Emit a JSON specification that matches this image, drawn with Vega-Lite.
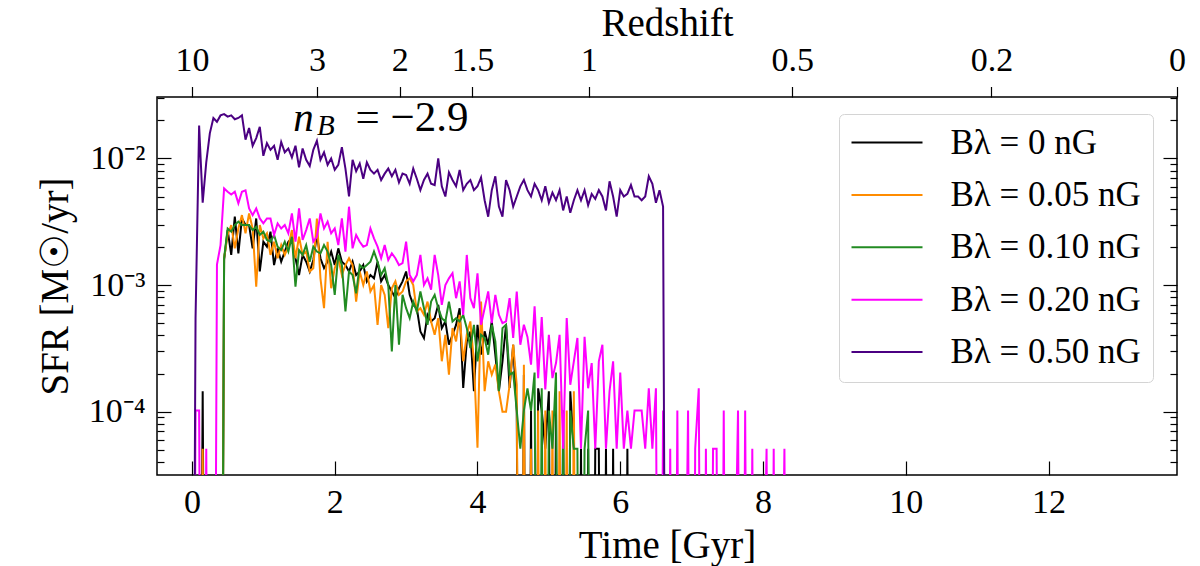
{
"$schema": "https://vega.github.io/schema/vega-lite/v6.json",
"width": 1020, "height": 378,
"autosize": {"type": "none"},
"padding": {"left": 157, "top": 97, "right": 23, "bottom": 91},
"background": "white",
"datasets": {"sfr": [
{"t":0,"d":1e-9,"e":1e-9},
{"t":0.05,"d":1.02e-4,"e":5.5e-4},
{"t":0.1,"a":1e-9,"b":1e-9,"d":1.02e-4,"e":1.82e-2},
{"t":0.15,"a":1.45e-4,"b":5.1e-5,"d":1e-9,"e":4.47e-3},
{"t":0.2,"a":1e-9,"b":1e-9,"d":5.1e-5,"e":9.33e-3},
{"t":0.25,"d":1e-9,"e":1.58e-2},
{"t":0.3,"d":1e-9,"e":2.09e-2},
{"t":0.35,"d":1.45e-3,"e":1.95e-2},
{"t":0.4,"a":1e-9,"b":1e-9,"c":1e-9,"d":2.07e-3,"e":2.19e-2},
{"t":0.45,"a":1.58e-3,"b":1.63e-3,"c":1.63e-3,"d":5.8e-3,"e":2.24e-2},
{"t":0.5,"a":2.72e-3,"b":2.49e-3,"c":2.8e-3,"d":5.46e-3,"e":2.14e-2},
{"t":0.55,"a":1.73e-3,"b":2.98e-3,"c":2.64e-3,"d":5.2e-3,"e":2.19e-2},
{"t":0.6,"a":3.47e-3,"b":1.95e-3,"c":2.98e-3,"d":5.46e-3,"e":2.04e-2},
{"t":0.65,"a":1.78e-3,"b":2.8e-3,"c":3.17e-3,"d":4.42e-3,"e":2.09e-2},
{"t":0.7,"a":3.36e-3,"b":3.57e-3,"c":2.98e-3,"d":5.46e-3,"e":2.19e-2},
{"t":0.75,"a":2.98e-3,"b":2.56e-3,"c":2.98e-3,"d":5.6e-3,"e":1.41e-2},
{"t":0.8,"a":2.98e-3,"b":3.68e-3,"c":2.98e-3,"d":4.03e-3,"e":1.74e-2},
{"t":0.85,"a":1.95e-3,"b":2.8e-3,"c":2.72e-3,"d":3.57e-3,"e":1.26e-2},
{"t":0.9,"a":3.36e-3,"b":9.7e-4,"c":2.89e-3,"d":4.03e-3,"e":1.45e-2},
{"t":0.95,"a":1.28e-3,"b":2.98e-3,"c":2.49e-3,"d":3.36e-3,"e":1.78e-2},
{"t":1.0,"a":2.2e-3,"b":2.34e-3,"c":2.64e-3,"d":3.07e-3,"e":1.05e-2},
{"t":1.05,"a":2.01e-3,"b":2.56e-3,"c":2.27e-3,"d":3.36e-3,"e":1.32e-2},
{"t":1.1,"a":2.64e-3,"b":1.73e-3,"c":2.2e-3,"d":3.36e-3,"e":1.17e-2},
{"t":1.15,"a":1.44e-3,"b":2.2e-3,"c":2.49e-3,"d":2.49e-3,"e":1.26e-2},
{"t":1.2,"a":1.95e-3,"b":1.63e-3,"c":2.01e-3,"d":3.07e-3,"e":9.77e-3},
{"t":1.25,"a":1.53e-3,"b":2.07e-3,"c":1.89e-3,"d":2.8e-3,"e":1.35e-2},
{"t":1.3,"a":1.84e-3,"b":1.73e-3,"c":2.2e-3,"d":2.98e-3,"e":1.12e-2},
{"t":1.35,"a":2.2e-3,"b":2.01e-3,"c":1.84e-3,"d":2.56e-3,"e":1.2e-2},
{"t":1.4,"a":2.34e-3,"b":2.72e-3,"c":2.41e-3,"d":3.68e-3,"e":1.02e-2},
{"t":1.45,"a":1.63e-3,"b":1.63e-3,"c":9.7e-4,"d":2.2e-3,"e":1.26e-2},
{"t":1.5,"a":1.2e-3,"b":2.41e-3,"c":1.89e-3,"d":4.03e-3,"e":8.51e-3},
{"t":1.55,"a":1.73e-3,"b":1.73e-3,"c":1.73e-3,"d":2.27e-3,"e":1.2e-2},
{"t":1.6,"a":1.53e-3,"b":1.84e-3,"c":2.07e-3,"d":2.72e-3,"e":9.77e-3},
{"t":1.65,"a":1.28e-3,"b":1.28e-3,"c":1.53e-3,"d":3.36e-3,"e":8.71e-3},
{"t":1.7,"a":1.58e-3,"b":1.36e-3,"c":2.01e-3,"d":2.2e-3,"e":1.17e-2},
{"t":1.75,"a":2.49e-3,"b":3.36e-3,"c":1.84e-3,"d":2.41e-3,"e":1.38e-2},
{"t":1.8,"a":1.63e-3,"b":1.13e-3,"c":1.78e-3,"d":3.68e-3,"e":9.77e-3},
{"t":1.85,"a":1.36e-3,"b":6.57e-4,"c":2.07e-3,"d":2.8e-3,"e":1.12e-2},
{"t":1.9,"a":1.53e-3,"b":2.2e-3,"c":1.84e-3,"d":3.17e-3,"e":8.91e-3},
{"t":1.95,"a":1.84e-3,"b":9.44e-4,"c":1.44e-3,"d":2.56e-3,"e":1.0e-2},
{"t":2.0,"a":1.44e-3,"b":1.36e-3,"c":8.37e-4,"d":2.8e-3,"e":8.13e-3},
{"t":2.05,"a":1.95e-3,"b":1.63e-3,"c":1.73e-3,"d":2.07e-3,"e":8.91e-3},
{"t":2.1,"a":1.53e-3,"b":1.2e-3,"c":1.44e-3,"d":3.36e-3,"e":1.23e-2},
{"t":2.15,"a":1.44e-3,"b":1.44e-3,"c":6.18e-4,"d":1.84e-3,"e":8.32e-3},
{"t":2.2,"a":1.28e-3,"b":1.63e-3,"c":1.28e-3,"d":4.16e-3,"e":5.01e-3},
{"t":2.25,"a":1.53e-3,"b":1.44e-3,"c":1.2e-3,"d":1.95e-3,"e":9.77e-3},
{"t":2.3,"a":1.2e-3,"b":7.41e-4,"c":8.6e-4,"d":2.49e-3,"e":7.94e-3},
{"t":2.35,"a":1.28e-3,"b":1.28e-3,"c":1.44e-3,"d":2.2e-3,"e":9.12e-3},
{"t":2.4,"a":1.44e-3,"b":1.0e-3,"c":1.36e-3,"d":2.01e-3,"e":6.92e-3},
{"t":2.45,"a":1.07e-3,"b":1.28e-3,"c":1.44e-3,"d":2.07e-3,"e":9.33e-3},
{"t":2.5,"a":1.2e-3,"b":8.89e-4,"c":1.53e-3,"d":2.8e-3,"e":8.13e-3},
{"t":2.55,"a":1.13e-3,"b":1.0e-3,"c":1.84e-3,"d":2.34e-3,"e":7.59e-3},
{"t":2.6,"a":1.53e-3,"b":4.85e-4,"c":1.53e-3,"d":2.01e-3,"e":8.13e-3},
{"t":2.65,"a":1.07e-3,"b":1.0e-3,"c":1.2e-3,"d":1.63e-3,"e":6.76e-3},
{"t":2.7,"a":1.2e-3,"b":8.37e-4,"c":1.36e-3,"d":2.07e-3,"e":7.59e-3},
{"t":2.75,"a":1.0e-3,"b":4.57e-4,"c":1.0e-3,"d":1.58e-3,"e":8.32e-3},
{"t":2.8,"a":8.89e-4,"b":9.44e-4,"c":2.99e-4,"d":1.78e-3,"e":7.24e-3},
{"t":2.85,"a":7.88e-4,"b":1.07e-3,"c":1.0e-3,"d":1.63e-3,"e":8.13e-3},
{"t":2.9,"a":9.44e-4,"b":8.37e-4,"c":3.38e-4,"d":1.44e-3,"e":6.46e-3},
{"t":2.95,"a":1.07e-3,"b":8.89e-4,"c":8.37e-4,"d":1.49e-3,"e":7.59e-3},
{"t":3.0,"a":1.28e-3,"b":1.07e-3,"c":6.57e-4,"d":2.2e-3,"e":7.41e-3},
{"t":3.05,"a":8.37e-4,"b":1.13e-3,"c":5.48e-4,"d":1.2e-3,"e":6.31e-3},
{"t":3.1,"a":6.98e-4,"b":1.0e-3,"c":7.41e-4,"d":1.07e-3,"e":8.32e-3},
{"t":3.15,"a":6.57e-4,"b":6.18e-4,"c":6.18e-4,"d":1.2e-3,"e":6.92e-3},
{"t":3.2,"a":4.3e-4,"b":6.57e-4,"c":8.89e-4,"d":1.73e-3,"e":5.62e-3},
{"t":3.25,"a":3.81e-4,"b":5.82e-4,"c":6.57e-4,"d":1.0e-3,"e":6.76e-3},
{"t":3.3,"a":5.82e-4,"b":7.41e-4,"c":4.85e-4,"d":1.13e-3,"e":7.59e-3},
{"t":3.35,"a":5.16e-4,"b":5.16e-4,"c":7.41e-4,"d":9.2e-4,"e":6.31e-3},
{"t":3.4,"a":5.48e-4,"b":4.05e-4,"c":8.37e-4,"d":1.73e-3,"e":6.17e-3},
{"t":3.45,"a":6.98e-4,"b":5.48e-4,"c":6.57e-4,"d":1.2e-3,"e":1.0e-2},
{"t":3.5,"a":4.57e-4,"b":2.5e-4,"c":5.48e-4,"d":6.98e-4,"e":6.03e-3},
{"t":3.55,"a":5.16e-4,"b":4.05e-4,"c":5.16e-4,"d":1.0e-3,"e":5.01e-3},
{"t":3.6,"a":3.38e-4,"b":1.96e-4,"c":7.41e-4,"d":1.13e-3,"e":7.76e-3},
{"t":3.65,"a":4.05e-4,"b":4.57e-4,"c":5.16e-4,"d":1.24e-3,"e":6.76e-3},
{"t":3.7,"a":4.85e-4,"b":3.59e-4,"c":5.48e-4,"d":7.88e-4,"e":6.03e-3},
{"t":3.75,"a":6.57e-4,"b":5.82e-4,"c":5.16e-4,"d":1.07e-3,"e":8.13e-3},
{"t":3.8,"a":1.54e-4,"b":2.5e-4,"c":5.82e-4,"d":5.82e-4,"e":5.62e-3},
{"t":3.85,"a":3.59e-4,"b":4.05e-4,"c":4.57e-4,"d":1.73e-3,"e":6.31e-3},
{"t":3.9,"a":4.3e-4,"b":5.16e-4,"c":3.18e-4,"d":7.88e-4,"e":6.76e-3},
{"t":3.95,"a":1.45e-4,"b":2.5e-4,"c":4.85e-4,"d":6.57e-4,"e":5.62e-3},
{"t":4.0,"a":4.85e-4,"b":5.2e-5,"c":2.5e-4,"d":1.24e-3,"e":6.03e-3},
{"t":4.05,"a":2.82e-4,"b":7.42e-4,"c":4.05e-4,"d":4.86e-4,"e":7.08e-3},
{"t":4.1,"a":4.31e-4,"b":1.45e-4,"c":3.82e-4,"d":6.57e-4,"e":4.68e-3},
{"t":4.15,"a":3.38e-4,"b":2.5e-4,"c":2.82e-4,"d":8.9e-4,"e":3.47e-3},
{"t":4.2,"a":5.16e-4,"b":1.96e-4,"c":4.86e-4,"d":5.0e-4,"e":5.62e-3},
{"t":4.25,"a":2.82e-4,"b":2.35e-4,"c":3.59e-4,"d":8.37e-4,"e":7.24e-3},
{"t":4.3,"a":1.45e-4,"b":1.45e-4,"c":1.45e-4,"d":5.82e-4,"e":4.17e-3},
{"t":4.35,"a":2.5e-4,"b":1.0e-4,"c":4.57e-4,"d":5.0e-4,"e":3.47e-3},
{"t":4.4,"a":4.86e-4,"b":1.0e-4,"c":4.86e-4,"d":5.16e-4,"e":6.76e-3},
{"t":4.45,"a":1.54e-4,"b":1.63e-4,"c":1.96e-4,"d":7.88e-4,"e":5.62e-3},
{"t":4.5,"a":3.38e-4,"b":3.38e-4,"c":2.04e-4,"d":3.82e-4,"e":4.17e-3},
{"t":4.55,"a":1.02e-4,"b":1.63e-4,"c":1.02e-4,"d":8.9e-4,"e":5.01e-3},
{"t":4.6,"a":1e-9,"b":1e-9,"c":5.1e-5,"d":3.38e-4,"e":6.03e-3},
{"t":4.65,"a":1.96e-4,"b":2.35e-4,"c":1.02e-4,"d":4.86e-4,"e":6.76e-3},
{"t":4.7,"a":1e-9,"b":1e-9,"c":1.53e-4,"d":3.9e-4,"e":5.62e-3},
{"t":4.75,"a":1.02e-4,"b":5.1e-5,"c":1.02e-4,"d":2.35e-4,"e":5.01e-3},
{"t":4.8,"a":1e-9,"b":1e-9,"c":2.04e-4,"d":6.8e-4,"e":6.31e-3},
{"t":4.85,"a":1.53e-4,"b":1.02e-4,"c":1e-9,"d":1.84e-4,"e":5.62e-3},
{"t":4.9,"a":1.02e-4,"b":1e-9,"c":1.53e-4,"d":5.6e-4,"e":4.68e-3},
{"t":4.95,"a":5.1e-5,"b":1.02e-4,"c":1e-9,"d":1.5e-4,"e":6.03e-3},
{"t":5.0,"a":1.45e-4,"b":1e-9,"c":1.02e-4,"d":4.05e-4,"e":4.47e-3},
{"t":5.05,"a":1e-9,"b":1.02e-4,"c":5.1e-5,"d":1.84e-4,"e":5.37e-3},
{"t":5.1,"a":1.02e-4,"b":1e-9,"c":2.04e-4,"d":2.42e-4,"e":4.68e-3},
{"t":5.15,"a":1e-9,"b":1.45e-4,"c":1e-9,"d":4.05e-4,"e":5.62e-3},
{"t":5.2,"a":1.02e-4,"b":1e-9,"c":1.02e-4,"d":5.1e-5,"e":3.89e-3},
{"t":5.25,"a":1e-9,"b":1.02e-4,"c":1e-9,"d":5.48e-4,"e":5.01e-3},
{"t":5.3,"a":1.45e-4,"b":1e-9,"c":1.02e-4,"d":1.63e-4,"e":3.72e-3},
{"t":5.35,"a":5.1e-5,"b":1.45e-4,"c":5.1e-5,"d":2.5e-4,"e":4.68e-3},
{"t":5.4,"a":1e-9,"b":1e-9,"c":5.1e-5,"d":3.82e-4,"e":5.62e-3},
{"t":5.45,"a":5.1e-5,"c":1e-9,"d":5.1e-5,"e":4.68e-3},
{"t":5.5,"a":1e-9,"c":5.1e-5,"d":3.9e-4,"e":5.62e-3},
{"t":5.55,"a":5.1e-5,"c":1.02e-4,"d":1.53e-4,"e":4.27e-3},
{"t":5.6,"a":1e-9,"c":1e-9,"d":2.42e-4,"e":5.25e-3},
{"t":5.65,"a":5.1e-5,"d":5.1e-5,"e":4.79e-3},
{"t":5.7,"a":5.1e-5,"d":2.5e-4,"e":5.62e-3},
{"t":5.75,"a":1e-9,"d":3.38e-4,"e":5.01e-3},
{"t":5.8,"a":5.1e-5,"d":5.1e-5,"e":3.89e-3},
{"t":5.85,"a":1e-9,"d":1.45e-4,"e":6.61e-3},
{"t":5.9,"a":5.1e-5,"d":2.5e-4,"e":5.01e-3},
{"t":5.95,"a":1e-9,"d":5.1e-5,"e":3.47e-3},
{"t":6.0,"d":2.04e-4,"e":5.62e-3},
{"t":6.05,"a":1e-9,"d":5.1e-5,"e":5.01e-3},
{"t":6.1,"a":5.1e-5,"d":1.02e-4,"e":5.25e-3},
{"t":6.15,"a":1e-9,"d":5.1e-5,"e":6.17e-3},
{"t":6.2,"d":1.02e-4,"e":5.01e-3},
{"t":6.25,"d":1.02e-4,"e":5.01e-3},
{"t":6.3,"d":1.02e-4,"e":4.68e-3},
{"t":6.35,"d":5.1e-5,"e":5.01e-3},
{"t":6.4,"d":1.53e-4,"e":7.24e-3},
{"t":6.45,"d":5.1e-5,"e":6.31e-3},
{"t":6.5,"d":1.53e-4,"e":4.47e-3},
{"t":6.55,"d":1e-9,"e":5.62e-3},
{"t":6.6,"d":1.02e-4,"e":4.17e-3},
{"t":6.65,"d":1e-9,"e":1e-9},
{"t":6.7,"d":5.1e-5},
{"t":6.75,"d":1e-9},
{"t":6.8,"d":1.02e-4},
{"t":6.85,"d":1e-9},
{"t":6.95,"d":1.02e-4},
{"t":7.0,"d":1e-9},
{"t":7.05,"d":5.1e-5},
{"t":7.1,"d":1.53e-4},
{"t":7.15,"d":1e-9},
{"t":7.2,"d":5.1e-5},
{"t":7.25,"d":1e-9},
{"t":7.3,"d":5.1e-5},
{"t":7.35,"d":5.1e-5},
{"t":7.4,"d":1e-9},
{"t":7.45,"d":1.02e-4},
{"t":7.5,"d":1e-9},
{"t":7.65,"d":1.02e-4},
{"t":7.7,"d":1e-9},
{"t":7.75,"d":1.02e-4},
{"t":7.8,"d":1e-9},
{"t":7.85,"d":5.1e-5},
{"t":7.9,"d":1e-9},
{"t":8.05,"d":5.1e-5},
{"t":8.1,"d":1e-9},
{"t":8.15,"d":5.1e-5},
{"t":8.2,"d":1e-9},
{"t":8.3,"d":5.1e-5},
{"t":8.35,"d":1e-9}
]},
"resolve": {"axis": {"x": "independent", "y": "independent"}},
"layer": [
{
 "data": {"name": "sfr"},
 "transform": [{"fold": ["a","b","c","d","e"], "as": ["series","sfr"]}],
 "mark": {"type": "line", "strokeWidth": 2, "clip": true},
 "encoding": {
  "x": {"field": "t", "type": "quantitative",
   "scale": {"domain": [-0.49, 13.8], "nice": false, "zero": false},
   "axis": {"orient": "bottom", "values": [0,2,4,6,8,10,12], "tickSize": -14, "labelPadding": 24, "title": "Time [Gyr]", "titlePadding": 7}},
  "y": {"field": "sfr", "type": "quantitative",
   "scale": {"type": "log", "domain": [3.16e-5, 0.0306], "nice": false},
   "axis": {"orient": "left", "values": [1e-4, 1e-3, 1e-2], "tickSize": -14, "labelPadding": 26,
    "labelExpr": "datum.value < 5e-4 ? '10⁻⁴' : datum.value < 5e-3 ? '10⁻³' : '10⁻²'",
    "title": "SFR [M☉/yr]", "titlePadding": 13}},
  "color": {"field": "series", "type": "nominal",
   "scale": {"domain": ["a","b","c","d","e"], "range": ["#000000","#ff8c00","#228b22","#ff00ff","#4b0082"]},
   "legend": {"orient": "none", "legendX": 682, "legendY": 17, "title": null,
    "symbolType": "stroke", "symbolSize": 5041, "symbolStrokeWidth": 2,
    "clipHeight": 34, "rowPadding": 17.4, "padding": 11.5, "labelOffset": 27,
    "labelFont": "Liberation Serif", "labelFontSize": 35, "labelColor": "black", "labelLimit": 400,
    "strokeColor": "#d4d4d4", "fillColor": "white", "cornerRadius": 5,
    "labelExpr": "datum.label == 'a' ? 'Bλ = 0 nG' : datum.label == 'b' ? 'Bλ = 0.05 nG' : datum.label == 'c' ? 'Bλ = 0.10 nG' : datum.label == 'd' ? 'Bλ = 0.20 nG' : 'Bλ = 0.50 nG'"}}
 }
},
{
 "data": {"name": "sfr"},
 "transform": [{"fold": ["a","b","c","d","e"], "as": ["series","sfr"]}],
 "mark": {"type": "point", "opacity": 0},
 "encoding": {
  "x": {"field": "t", "type": "quantitative",
   "axis": {"orient": "top", "values": [0, 1.75, 2.91, 3.93, 5.56, 8.41, 11.2, 13.8], "tickSize": 10.5, "labelPadding": 9.5,
    "labelExpr": "['10','3','2','1.5','1','0.5','0.2','0'][indexof([0, 1.75, 2.91, 3.93, 5.56, 8.41, 11.2, 13.8], datum.value)]",
    "title": "Redshift", "titlePadding": 0}},
  "y": {"field": "sfr", "type": "quantitative",
   "axis": {"orient": "left", "values": [4e-5,5e-5,6e-5,7e-5,8e-5,9e-5,2e-4,3e-4,4e-4,5e-4,6e-4,7e-4,8e-4,9e-4,2e-3,3e-3,4e-3,5e-3,6e-3,7e-3,8e-3,9e-3,2e-2,3e-2],
    "tickSize": -7, "labels": false, "title": null}}
 }
},
{
 "data": {"name": "sfr"},
 "transform": [{"fold": ["a","b","c","d","e"], "as": ["series","sfr"]}],
 "mark": {"type": "point", "opacity": 0},
 "encoding": {
  "x": {"field": "t", "type": "quantitative", "axis": null},
  "y": {"field": "sfr", "type": "quantitative",
   "axis": {"orient": "right", "values": [1e-4, 1e-3, 1e-2], "tickSize": -14, "labels": false, "title": null}}
 }
},
{
 "data": {"name": "sfr"},
 "transform": [{"fold": ["a","b","c","d","e"], "as": ["series","sfr"]}],
 "mark": {"type": "point", "opacity": 0},
 "encoding": {
  "x": {"field": "t", "type": "quantitative", "axis": null},
  "y": {"field": "sfr", "type": "quantitative",
   "axis": {"orient": "right", "values": [4e-5,5e-5,6e-5,7e-5,8e-5,9e-5,2e-4,3e-4,4e-4,5e-4,6e-4,7e-4,8e-4,9e-4,2e-3,3e-3,4e-3,5e-3,6e-3,7e-3,8e-3,9e-3,2e-2,3e-2],
    "tickSize": -7, "labels": false, "title": null}}
 }
},
{
 "data": {"values": [{"s": "n"}]},
 "mark": {"type": "text", "font": "Liberation Serif", "fontStyle": "italic", "fontSize": 41, "align": "left", "baseline": "alphabetic", "color": "black"},
 "encoding": {
  "x": {"datum": 1.42, "type": "quantitative", "axis": null},
  "y": {"datum": 0.01656, "type": "quantitative", "axis": null},
  "text": {"field": "s"}
 }
},
{
 "data": {"values": [{"s": "B"}]},
 "mark": {"type": "text", "font": "Liberation Serif", "fontStyle": "italic", "fontSize": 29, "align": "left", "baseline": "alphabetic", "color": "black"},
 "encoding": {
  "x": {"datum": 1.75, "type": "quantitative", "axis": null},
  "y": {"datum": 0.01526, "type": "quantitative", "axis": null},
  "text": {"field": "s"}
 }
},
{
 "data": {"values": [{"s": "= −2.9"}]},
 "mark": {"type": "text", "font": "Liberation Serif", "fontSize": 43, "align": "left", "baseline": "alphabetic", "color": "black"},
 "encoding": {
  "x": {"datum": 2.29, "type": "quantitative", "axis": null},
  "y": {"datum": 0.01656, "type": "quantitative", "axis": null},
  "text": {"field": "s"}
 }
}
],
"config": {
 "font": "Liberation Serif",
 "view": {"stroke": "black", "strokeWidth": 1.5},
 "axis": {"grid": false, "domain": false, "labelFont": "Liberation Serif", "labelFontSize": 34, "labelColor": "black",
  "titleFont": "Liberation Serif", "titleFontSize": 39, "titleFontWeight": "normal", "titleColor": "black",
  "tickColor": "black", "tickWidth": 1.2, "labelFlush": false, "labelOverlap": false}
}
}
